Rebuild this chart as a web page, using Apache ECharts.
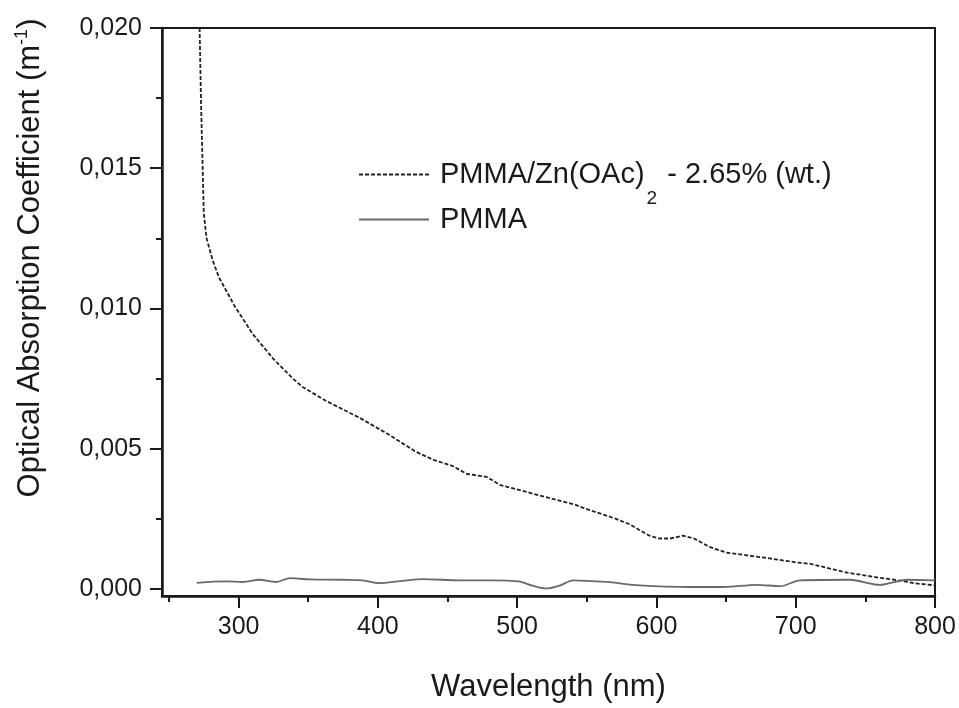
<!DOCTYPE html>
<html>
<head>
<meta charset="utf-8">
<script src="https://cdn.jsdelivr.net/npm/echarts@6/dist/echarts.min.js"></script>
<style>
html,body{margin:0;padding:0;background:#fff;}
#chart{width:959px;height:708px;}
</style>
</head>
<body>
<div id="chart"></div>
<script>
// Wavelength (nm) and absorption coefficient for PMMA/Zn(OAc)2 - 2.65% (wt.)
var znWavelength = [271.5, 272, 273, 274.4, 275, 277, 281.5, 286, 297, 310, 325, 339, 346, 363, 387, 408, 427, 440, 453, 464, 478, 488, 504, 511, 542, 547, 571, 581, 595, 602, 610, 619, 627, 638, 650, 665, 680, 700, 710, 727, 735, 760, 775, 786, 800];
var znValues = [0.0215, 0.0200, 0.0174, 0.0146, 0.0134, 0.0125, 0.0117, 0.0111, 0.0101, 0.0091, 0.0082, 0.0075, 0.0072, 0.0067, 0.0061, 0.0055, 0.0049, 0.0046, 0.0044, 0.0041, 0.0040, 0.0037, 0.0035, 0.0034, 0.0030, 0.0029, 0.0025, 0.0023, 0.0019, 0.0018, 0.0018, 0.0019, 0.0018, 0.0015, 0.0013, 0.0012, 0.0011, 0.00095, 0.0009, 0.0007, 0.0006, 0.0004, 0.0003, 0.0002, 0.00013];

// Wavelength (nm) and absorption coefficient for PMMA
var pmmaWavelength = [270, 291, 303, 315, 327, 337, 351, 375, 389, 401, 416, 432, 459, 483, 501, 511, 521, 531, 540, 564, 588, 624, 648, 672, 689, 703, 739, 760, 780, 800];
var pmmaValues = [0.00022, 0.00027, 0.00025, 0.00033, 0.00025, 0.00039, 0.00034, 0.00033, 0.00031, 0.00021, 0.00028, 0.00035, 0.00031, 0.00031, 0.00027, 0.00012, 0.00002, 0.00013, 0.00031, 0.00025, 0.00013, 0.00007, 0.00007, 0.00015, 0.0001, 0.00031, 0.00033, 0.00015, 0.00033, 0.00031];

var xMajorTicks = [300, 400, 500, 600, 700, 800];
var xMinorTicks = [250, 350, 450, 550, 650, 750];
var yMajorTicks = [0, 0.005, 0.010, 0.015, 0.020];
var yMinorTicks = [0.0025, 0.0075, 0.0125, 0.0175];

var seriesNames = ['PMMA/Zn(OAc)2 - 2.65% (wt.)', 'PMMA'];

function pairs(xs, ys) {
  return xs.map(function (x, i) { return [x, ys[i]]; });
}

var FONT = 'Liberation Sans, Arial, Helvetica, sans-serif';
var INK = '#1a1a1a';
var X_MIN = 245, X_MAX = 800, Y_MIN = -0.00025, Y_MAX = 0.020;

var chart = echarts.init(document.getElementById('chart'), null, {renderer: 'canvas'});
chart.setOption({
  backgroundColor: '#fff',
  animation: false,
  grid: {left: 162, right: 24, top: 28, bottom: 109, show: true, borderColor: INK, borderWidth: 2, backgroundColor: 'transparent'},
  legend: {
    orient: 'vertical',
    left: 358,
    top: 160,
    padding: 0,
    itemWidth: 70,
    itemHeight: 14,
    itemGap: -3,
    itemStyle: {opacity: 0},
    data: seriesNames,
    textStyle: {
      fontFamily: FONT, fontSize: 29, color: INK, padding: [0, 0, 0, 6],
      rich: {
        a: {fontFamily: FONT, fontSize: 29, color: INK},
        s: {fontFamily: FONT, fontSize: 19, color: INK, padding: [48, 2, 0, 2]}
      }
    },
    formatter: function (name) {
      if (name === seriesNames[0]) return '{a|PMMA/Zn(OAc)}{s|2}{a| - 2.65% (wt.)}';
      return '{a|' + name + '}';
    }
  },
  xAxis: [{
    type: 'value', min: X_MIN, max: X_MAX, position: 'bottom',
    name: 'Wavelength (nm)', nameLocation: 'middle', nameGap: 76,
    nameTextStyle: {fontFamily: FONT, fontSize: 31, color: INK},
    axisLine: {show: true, onZero: false, lineStyle: {color: INK, width: 2.5}},
    axisTick: {show: true, length: 12, lineStyle: {color: INK, width: 2}, customValues: xMajorTicks},
    axisLabel: {fontFamily: FONT, fontSize: 25, color: INK, margin: 19, customValues: xMajorTicks},
    splitLine: {show: false}
  }, {
    type: 'value', min: X_MIN, max: X_MAX, position: 'bottom',
    axisLine: {show: false, onZero: false},
    axisTick: {show: true, length: 6, lineStyle: {color: INK, width: 2}, customValues: xMinorTicks},
    axisLabel: {show: false},
    splitLine: {show: false}
  }],
  yAxis: [{
    type: 'value', min: Y_MIN, max: Y_MAX, position: 'left',
    name: '{a|Optical Absorption Coefficient (m}{s|-1}{a|)}',
    nameLocation: 'middle', nameGap: 115,
    nameTextStyle: {
      fontFamily: FONT, fontSize: 31, color: INK, padding: [0, 0, 0, 108],
      rich: {
        a: {fontFamily: FONT, fontSize: 31, color: INK},
        s: {fontFamily: FONT, fontSize: 18, color: INK, padding: [0, 0, 16, 0]}
      }
    },
    axisLine: {show: true, onZero: false, lineStyle: {color: INK, width: 2.5}},
    axisTick: {show: true, length: 12, lineStyle: {color: INK, width: 2}, customValues: yMajorTicks},
    axisLabel: {
      fontFamily: FONT, fontSize: 25, color: INK, margin: 20, customValues: yMajorTicks,
      formatter: function (v) { return v.toFixed(3).replace('.', ','); }
    },
    splitLine: {show: false}
  }, {
    type: 'value', min: Y_MIN, max: Y_MAX, position: 'left',
    axisLine: {show: false, onZero: false},
    axisTick: {show: true, length: 6, lineStyle: {color: INK, width: 2}, customValues: yMinorTicks},
    axisLabel: {show: false},
    splitLine: {show: false}
  }],
  series: [{
    name: seriesNames[0],
    type: 'line',
    xAxisIndex: 0, yAxisIndex: 0,
    data: pairs(znWavelength, znValues),
    symbol: 'none',
    clip: true,
    lineStyle: {color: '#222', width: 1.8, type: [4, 2]},
    itemStyle: {color: '#222'}
  }, {
    name: seriesNames[1],
    type: 'line',
    xAxisIndex: 0, yAxisIndex: 0,
    data: pairs(pmmaWavelength, pmmaValues),
    symbol: 'none',
    clip: true,
    smooth: 0.3,
    lineStyle: {color: '#6a6a6a', width: 1.8},
    itemStyle: {color: '#333'}
  }]
});
</script>
</body>
</html>
